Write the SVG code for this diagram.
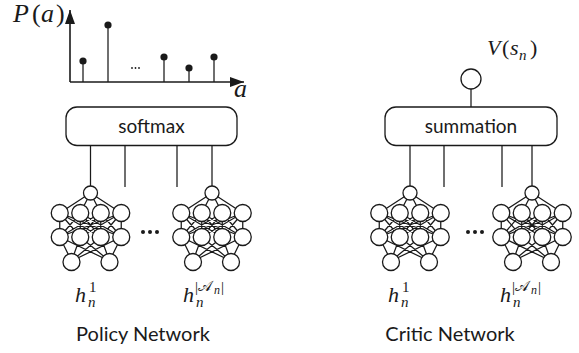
<svg xmlns="http://www.w3.org/2000/svg" width="579" height="353" viewBox="0 0 579 353">
  <style>
    .ln{stroke:#1a1a1a;stroke-width:1.25;fill:none}
    .ax{stroke:#1a1a1a;stroke-width:1.6;fill:none}
    .nd{fill:#fff;stroke:#1a1a1a;stroke-width:1.3}
    .box{fill:#fff;stroke:#1a1a1a;stroke-width:1.3}
    .dot{fill:#1a1a1a}
    .lbl{font-family:Lato,"Liberation Sans",sans-serif;fill:#1a1a1a}
    .m{font-family:"Liberation Serif","DejaVu Serif",serif;font-style:italic;fill:#1a1a1a}
    .up{font-style:normal}
    .cal{font-family:"DejaVu Sans","Noto Sans",serif;font-style:normal}
  </style>
  <defs>
    <marker id="arrow" viewBox="0 0 14 10" refX="14" refY="5" markerWidth="14" markerHeight="10" markerUnits="userSpaceOnUse" orient="auto">
      <path d="M0,0 L14,5 L0,10 z" fill="#1a1a1a"/>
    </marker>
    <!-- small fully connected network: 1 output, two hidden layers of 4, 2 inputs; centred on x=0 -->
    <g id="mlp">
      <path class="ln" d="M0,193L-30.75,213M0,193L-10.25,213M0,193L10.25,213M0,193L30.75,213
        M-30.75,213L-30.75,237M-30.75,213L-10.25,237M-30.75,213L10.25,237M-30.75,213L30.75,237
        M-10.25,213L-30.75,237M-10.25,213L-10.25,237M-10.25,213L10.25,237M-10.25,213L30.75,237
        M10.25,213L-30.75,237M10.25,213L-10.25,237M10.25,213L10.25,237M10.25,213L30.75,237
        M30.75,213L-30.75,237M30.75,213L-10.25,237M30.75,213L10.25,237M30.75,213L30.75,237
        M-30.75,237L-19,261M-30.75,237L19,261M-10.25,237L-19,261M-10.25,237L19,261
        M10.25,237L-19,261M10.25,237L19,261M30.75,237L-19,261M30.75,237L19,261"/>
      <circle class="nd" cx="0" cy="193" r="7"/>
      <circle class="nd" cx="-30.75" cy="213" r="8.5"/>
      <circle class="nd" cx="-10.25" cy="213" r="8.5"/>
      <circle class="nd" cx="10.25" cy="213" r="8.5"/>
      <circle class="nd" cx="30.75" cy="213" r="8.5"/>
      <circle class="nd" cx="-30.75" cy="237" r="8.5"/>
      <circle class="nd" cx="-10.25" cy="237" r="8.5"/>
      <circle class="nd" cx="10.25" cy="237" r="8.5"/>
      <circle class="nd" cx="30.75" cy="237" r="8.5"/>
      <circle class="nd" cx="-19" cy="262" r="8.5"/>
      <circle class="nd" cx="19" cy="262" r="8.5"/>
    </g>
  </defs>

  <!-- action distribution plot -->
  <g id="policy-plot">
    <line class="ax" x1="70" y1="82" x2="70" y2="10" marker-end="url(#arrow)"/>
    <line class="ax" x1="70" y1="82" x2="244" y2="82" marker-end="url(#arrow)"/>
    <path class="ln" d="M83,82V61M108,82V25M164,82V57M189,82V68M214,82V57"/>
    <circle class="dot" cx="83" cy="61" r="3.6"/>
    <circle class="dot" cx="108" cy="25" r="3.6"/>
    <circle class="dot" cx="164" cy="57" r="3.6"/>
    <circle class="dot" cx="189" cy="68" r="3.6"/>
    <circle class="dot" cx="214" cy="57" r="3.6"/>
    <circle class="dot" cx="132" cy="68" r="0.9"/>
    <circle class="dot" cx="135.5" cy="68" r="0.9"/>
    <circle class="dot" cx="139" cy="68" r="0.9"/>
    <text class="m" font-size="26" y="22"><tspan x="13">P</tspan><tspan class="up" x="32">(</tspan><tspan x="41">a</tspan><tspan class="up" x="56">)</tspan></text>
    <text class="m" font-size="26" x="234" y="97">a</text>
  </g>

  <!-- aggregation boxes -->
  <g id="softmax">
    <rect class="box" x="66" y="107" width="171" height="38.5" rx="11"/>
    <text class="lbl" font-size="19" x="151.5" y="133" text-anchor="middle">softmax</text>
  </g>
  <g id="summation">
    <rect class="box" x="385" y="107" width="172" height="38.5" rx="11"/>
    <text class="lbl" font-size="19" x="471" y="133" text-anchor="middle">summation</text>
  </g>

  <!-- state value output -->
  <g id="value-node">
    <circle class="nd" cx="471" cy="79" r="10"/>
    <text class="m" font-size="22" y="55"><tspan x="487">V</tspan><tspan class="up" x="502">(</tspan><tspan x="510">s</tspan><tspan font-size="15" x="519" y="60">n</tspan><tspan class="up" x="530" y="55">)</tspan></text>
  </g>

  <!-- per-agent networks -->
  <g id="policy-net-1"><use href="#mlp" x="90.5"/></g>
  <g id="policy-net-n"><use href="#mlp" x="212"/></g>
  <g id="critic-net-1"><use href="#mlp" x="410"/></g>
  <g id="critic-net-n"><use href="#mlp" x="532"/></g>

  <g id="ellipses">
    <circle class="dot" cx="143" cy="232" r="2"/>
    <circle class="dot" cx="150" cy="232" r="2"/>
    <circle class="dot" cx="157" cy="232" r="2"/>
    <circle class="dot" cx="468" cy="232" r="2"/>
    <circle class="dot" cx="475" cy="232" r="2"/>
    <circle class="dot" cx="482" cy="232" r="2"/>
  </g>

  <g id="connectors">
    <path class="ln" d="M90.5,145.5V186M125,145.5V187M177,145.5V187M212,145.5V186"/>
    <path class="ln" d="M410,145.5V186M444,145.5V187M502,145.5V187M532,145.5V186"/>
    <path class="ln" d="M471,89V107"/>
  </g>

  <!-- input labels -->
  <g id="inputs">
    <text class="m" font-size="22" y="302"><tspan x="75">h</tspan><tspan class="up" font-size="15" x="89" y="292">1</tspan><tspan font-size="15" x="88" y="307">n</tspan></text>
    <text class="m" font-size="22" y="302"><tspan x="183">h</tspan><tspan class="up" font-size="15" x="195" y="292">|</tspan><tspan class="cal" font-size="15" x="198" y="291">𝒜</tspan><tspan font-size="12" x="214" y="294">n</tspan><tspan class="up" font-size="15" x="221" y="292">|</tspan><tspan font-size="15" x="196" y="307">n</tspan></text>
    <text class="m" font-size="22" y="302"><tspan x="388">h</tspan><tspan class="up" font-size="15" x="402" y="292">1</tspan><tspan font-size="15" x="401" y="307">n</tspan></text>
    <text class="m" font-size="22" y="302"><tspan x="500">h</tspan><tspan class="up" font-size="15" x="512" y="292">|</tspan><tspan class="cal" font-size="15" x="515" y="291">𝒜</tspan><tspan font-size="12" x="531" y="294">n</tspan><tspan class="up" font-size="15" x="538" y="292">|</tspan><tspan font-size="15" x="513" y="307">n</tspan></text>
  </g>

  <text class="lbl" font-size="20" x="143" y="341" text-anchor="middle">Policy Network</text>
  <text class="lbl" font-size="20" x="450" y="341" text-anchor="middle">Critic Network</text>
</svg>
